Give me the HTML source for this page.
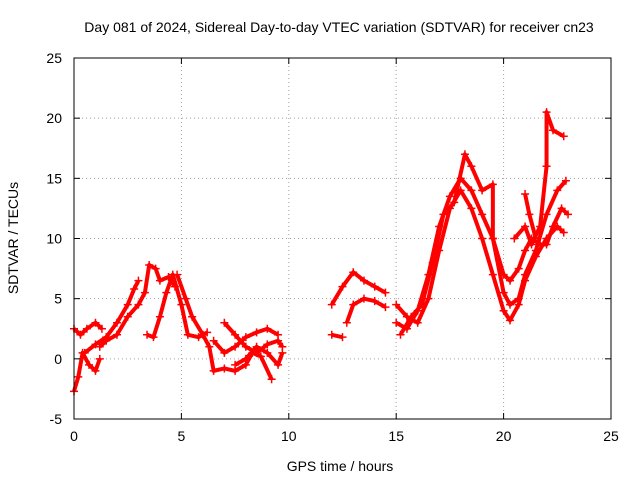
<!DOCTYPE html>
<html><head><meta charset="utf-8"><style>
body{margin:0;background:#fff;}
svg{display:block;font-family:"Liberation Sans",sans-serif;}
</style></head><body>
<svg id="chart" width="640" height="480" viewBox="0 0 640 480">
<rect width="640" height="480" fill="#fff"/>
<text x="339" y="32" font-size="14" text-anchor="middle" fill="#000">Day 081 of 2024, Sidereal Day-to-day VTEC variation (SDTVAR) for receiver cn23</text>
<text x="340" y="471" font-size="14" text-anchor="middle">GPS time / hours</text>
<text transform="translate(18,238) rotate(-90)" font-size="14" text-anchor="middle">SDTVAR / TECUs</text>
<g id="grid"></g><g id="data"></g><g id="axes"></g>
</svg>
<script>
const xTicks=[0,5,10,15,20,25];
const yTicks=[-5,0,5,10,15,20,25];
const track1=[[0,2.5],[0.3,2],[0.6,2.5],[1,3],[1.3,2.5]];
const track2=[[0,-2.7],[0.2,-1.5],[0.4,0.5],[0.7,-0.5],[1,-1],[1.2,0]];
const track3=[[0.5,0.5],[1,1.2],[1.5,1.8],[2,3],[2.5,4.5],[2.8,5.8],[3,6.5]];
const track4=[[1.2,1],[1.5,1.5],[2,2],[2.5,3.5],[3,4.5],[3.3,5.5],[3.5,7.8],[3.8,7.5],[4,6.5],[4.4,6.8],[4.7,6]];
const track5=[[3.4,2],[3.7,1.8],[4,3.5],[4.3,5.5],[4.6,7],[5,4.5],[5.3,2],[5.8,1.8],[6.2,2.2]];
const track6=[[4.8,7],[5.2,5],[5.5,3.5],[6,2],[6.3,1],[6.5,-1],[7,-0.8],[7.5,-1],[8,-0.5],[8.3,0.5],[8.7,0.2],[9.2,-1.7]];
const track7=[[7,3],[7.5,2],[8,1],[8.5,0.5],[9,1.2],[9.5,1.5],[9.7,1]];
const track8=[[6.5,1.5],[7,0.5],[7.5,1],[8,1.8],[8.5,2.2],[9,2.5],[9.5,2]];
const track9=[[7.5,-0.5],[8,0],[8.5,1],[9,0.5],[9.5,-0.5],[9.7,0.5]];
const track10=[[12,4.5],[12.5,6],[13,7.2],[13.5,6.5],[14,6],[14.5,5.5]];
const track11=[[12,2],[12.5,1.8]];
const track12=[[12.7,3],[13,4.5],[13.5,5],[14,4.8],[14.5,4.3]];
const track13=[[15,4.5],[15.5,3.5],[16,3],[16.5,5],[17,9],[17.5,12.5],[18,14],[18.5,12.5],[19,10],[19.5,7],[20,4],[20.3,3.2],[20.7,4.5],[21,6.5],[21.5,8.5],[22,10],[22.5,11],[22.8,10.5]];
const track14=[[15,3],[15.5,2.5],[16,4],[16.5,7],[17,11],[17.5,13.5],[18,15],[18.5,14],[19,12],[19.5,10],[20,7],[20.3,6.5],[20.7,7.5],[21,9],[21.3,10],[21.7,9.5],[22,9.5],[22.3,11],[22.7,12.5],[23,12]];
const track15=[[15.2,2],[15.7,3.5],[16.2,4.5],[16.7,8],[17.2,12],[17.7,13],[18.2,17],[18.5,16],[19,14],[19.5,14.5],[19.5,10],[20,5.5],[20.3,4.5],[20.7,5],[21,7],[21.5,9],[22,12],[22.5,14],[22.9,14.8]];
const track16=[[20.5,10],[21,11],[21.3,9.5],[21.7,11],[22,16],[22,20.5],[22.3,19],[22.8,18.5]];
const track17=[[21,13.7],[21.2,12],[21.5,10]];
const tracks=[track1,track2,track3,track4,track5,track6,track7,track8,track9,track10,track11,track12,track13,track14,track15,track16,track17];

const X0=74,X1=611,Y0=419,Y1=58;
const xs=v=>X0+(v-0)/(25-0)*(X1-X0);
const ys=v=>Y0-(v+5)/30*(Y0-Y1);
const NS="http://www.w3.org/2000/svg";
function mk(t,a,p){const e=document.createElementNS(NS,t);for(const k in a)e.setAttribute(k,a[k]);p.appendChild(e);return e;}
const grid=document.getElementById('grid'),axes=document.getElementById('axes'),data=document.getElementById('data');
xTicks.forEach(t=>{
  const x=xs(t);
  if(t>0&&t<25){const l=mk('line',{x1:x,y1:Y0,x2:x,y2:Y1,stroke:'#a0a0a0','stroke-dasharray':'1,3'},grid);
  
  }
  mk('line',{x1:x,y1:Y0,x2:x,y2:Y0-6,stroke:'#000'},axes);
  mk('line',{x1:x,y1:Y1,x2:x,y2:Y1+6,stroke:'#000'},axes);
  const tx=mk('text',{x:x,y:Y0+22,'font-size':14,'text-anchor':'middle'},axes);tx.textContent=t;
  
  
});
yTicks.forEach(t=>{
  const y=ys(t);
  if(t>-5&&t<25){const l=mk('line',{x1:X0,y1:y,x2:X1,y2:y,stroke:'#a0a0a0','stroke-dasharray':'1,3'},grid);
  
  }
  mk('line',{x1:X0,y1:y,x2:X0+6,y2:y,stroke:'#000'},axes);
  mk('line',{x1:X1,y1:y,x2:X1-6,y2:y,stroke:'#000'},axes);
  const tx=mk('text',{x:X0-12,y:y+5,'font-size':14,'text-anchor':'end'},axes);tx.textContent=t;
  
  
});
const fr=mk('rect',{x:X0,y:Y1,width:X1-X0,height:Y0-Y1,fill:'none',stroke:'#000'},axes);


tracks.forEach((tr,i)=>{
  const g=mk('g',{},data);
  
  
  mk('polyline',{points:tr.map(p=>xs(p[0])+','+ys(p[1])).join(' '),fill:'none',stroke:'#f00','stroke-width':4,'stroke-linejoin':'round'},g);
  tr.forEach(p=>{const x=xs(p[0]),y=ys(p[1]);
    mk('path',{d:`M${x-4},${y}h8M${x},${y-4}v8`,stroke:'#f00','stroke-width':1.5},g);});
});
</script>
</body></html>
